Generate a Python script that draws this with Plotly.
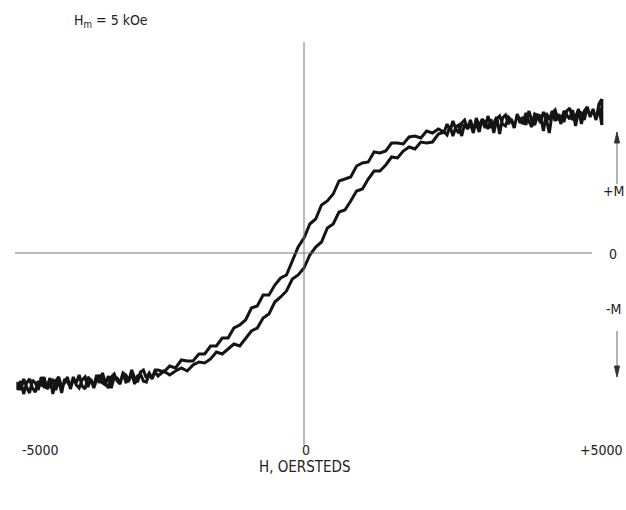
import plotly.graph_objects as go

# Applied field H (Oe), sample positions along the sweep (finer sampling in the saturated, noisy ends)
H_OE = [-4900, -4850, -4800, -4750, -4700, -4650, -4600, -4550, -4500, -4450,
        -4400, -4350, -4300, -4250, -4200, -4150, -4100, -4050, -4000, -3950,
        -3900, -3850, -3800, -3750, -3700, -3650, -3600, -3550, -3500, -3450,
        -3400, -3350, -3300, -3250, -3200, -3150, -3100, -3050, -3000, -2950,
        -2900, -2850, -2800, -2750, -2700, -2650, -2600, -2550,
        -2500, -2400, -2300, -2200, -2100, -2000, -1900, -1800, -1700, -1600,
        -1500, -1400, -1300, -1200, -1100, -1000, -900, -800, -700, -600,
        -500, -400, -300, -200, -100, 0, 100, 200, 300, 400,
        500, 600, 700, 800, 900, 1000, 1100, 1200, 1300, 1400,
        1500, 1600, 1700, 1800, 1900, 2000, 2100, 2200, 2300, 2400,
        2450, 2500, 2550, 2600, 2650, 2700, 2750, 2800, 2850, 2900,
        2950, 3000, 3050, 3100, 3150, 3200, 3250, 3300, 3350, 3400,
        3450, 3500, 3550, 3600, 3650, 3700, 3750, 3800, 3850, 3900,
        3950, 4000, 4050, 4100, 4150, 4200, 4250, 4300, 4350, 4400,
        4450, 4500, 4550, 4600, 4650, 4700, 4750, 4800, 4850, 4900,
        4950, 5000, 5050, 5100]

# Magnetization (arbitrary units), descending branch (H decreasing; upper-left curve)
M_DESC = [-129, -137, -126, -134, -140, -127, -130, -137, -124, -134,
          -134, -125, -141, -128, -124, -134, -130, -124, -136, -126,
          -130, -122, -133, -136, -124, -127, -133, -122, -130, -120,
          -130, -135, -124, -121, -128, -131, -120, -122, -128, -117,
          -125, -129, -119, -117, -125, -120, -125, -117,
          -117, -119, -113, -115, -107, -108, -108, -101, -101, -93,
          -93, -85, -85, -75, -72, -67, -55, -53, -42, -42,
          -32, -25, -22, -9, 6, 15, 29, 34, 48, 52,
          59, 72, 74, 76, 87, 90, 91, 101, 100, 102,
          110, 110, 109, 116, 117, 115, 122, 120, 124, 121,
          129, 122, 132, 124, 120, 130, 133, 124, 129, 120,
          135, 127, 134, 125, 137, 127, 130, 136, 119, 135,
          138, 129, 134, 126, 138, 134, 129, 140, 132, 126,
          139, 137, 130, 141, 134, 120, 140, 143, 133, 138,
          131, 142, 145, 133, 136, 144, 129, 142, 146, 136,
          144, 133, 149, 154]

# Magnetization (arbitrary units), ascending branch (H increasing; lower-right curve)
M_ASC = [-137, -128, -141, -130, -126, -135, -139, -128, -133, -124,
         -136, -133, -126, -137, -127, -140, -126, -129, -134, -124,
         -132, -135, -127, -124, -134, -126, -135, -127, -122, -130,
         -132, -123, -135, -124, -125, -130, -120, -129, -128, -120,
         -131, -123, -121, -128, -129, -121, -126, -119,
         -123, -118, -122, -118, -115, -118, -112, -109, -110, -106,
         -99, -101, -96, -91, -93, -85, -78, -75, -65, -61,
         -49, -44, -38, -26, -22, -15, -2, 6, 11, 25,
         29, 41, 43, 52, 62, 64, 74, 82, 82, 88,
         96, 95, 102, 106, 104, 111, 110, 111, 119, 121,
         118, 127, 117, 126, 128, 117, 129, 124, 133, 123,
         129, 121, 134, 131, 124, 134, 120, 134, 137, 129,
         127, 136, 133, 125, 139, 130, 136, 128, 142, 133,
         128, 138, 137, 122, 140, 133, 142, 132, 139, 129,
         142, 138, 134, 143, 127, 142, 140, 133, 146, 137,
         143, 133, 145, 128]

# Texts
X_TICK_LABELS = ["-5000", "0", "+5000"]
X_TITLE = "H, OERSTEDS"
Y_LABELS = ["+M", "0", "-M"]
HEADER = "H<sub>m</sub> = 5 kOe"

W, H = 626, 510
FONT = "DejaVu Sans Condensed, DejaVu Sans, sans-serif"
INK = "#141414"
AXIS = "#777777"

def px(xp):
    return xp / W

def py(yp):
    return 1 - yp / H

fig = go.Figure()

# one continuous trace: descending sweep, then ascending sweep, closed at the +H end
loop_h = list(reversed(H_OE)) + H_OE + [H_OE[-1]]
loop_m = list(reversed(M_DESC)) + M_ASC + [M_DESC[-1]]
fig.add_trace(go.Scatter(x=loop_h, y=loop_m, mode="lines",
                         line=dict(color=INK, width=3),
                         hoverinfo="skip"))

shapes = [
    # M = 0 axis
    dict(type="line", xref="paper", yref="y", x0=px(15), x1=px(592), y0=0, y1=0,
         line=dict(color=AXIS, width=1)),
    # H = 0 axis
    dict(type="line", xref="x", yref="paper", x0=0, x1=0, y0=py(42), y1=py(445),
         line=dict(color=AXIS, width=1)),
    # +M arrow
    dict(type="line", xref="paper", yref="paper", x0=px(617), x1=px(617), y0=py(184), y1=py(141),
         line=dict(color="#666", width=1)),
    dict(type="path", xref="paper", yref="paper",
         path="M {:.5f},{:.5f} L {:.5f},{:.5f} L {:.5f},{:.5f} Z".format(
             px(614.5), py(143), px(619.5), py(143), px(617), py(132)),
         fillcolor="#333", line=dict(color="#333", width=1)),
    # -M arrow
    dict(type="line", xref="paper", yref="paper", x0=px(617), x1=px(617), y0=py(331), y1=py(368),
         line=dict(color="#666", width=1)),
    dict(type="path", xref="paper", yref="paper",
         path="M {:.5f},{:.5f} L {:.5f},{:.5f} L {:.5f},{:.5f} Z".format(
             px(614.5), py(366), px(619.5), py(366), px(617), py(377)),
         fillcolor="#333", line=dict(color="#333", width=1)),
]

ann = []
for label, xp in zip(X_TICK_LABELS, [40, 306, 601]):
    ann.append(dict(text=label, xref="paper", yref="paper", x=px(xp), y=py(450),
                    showarrow=False, xanchor="center", yanchor="middle",
                    font=dict(size=14)))
ann.append(dict(text=X_TITLE, xref="paper", yref="paper", x=px(305), y=py(467),
                showarrow=False, xanchor="center", yanchor="middle",
                font=dict(size=15)))
for label, yp in zip(Y_LABELS, [191, 254, 309]):
    ann.append(dict(text=label, xref="paper", yref="paper", x=px(613), y=py(yp),
                    showarrow=False, xanchor="center", yanchor="middle",
                    font=dict(size=14)))
ann.append(dict(text=HEADER, xref="paper", yref="paper", x=px(111), y=py(21),
                showarrow=False, xanchor="center", yanchor="middle",
                font=dict(size=14)))

fig.update_layout(
    width=W, height=H,
    margin=dict(l=0, r=0, t=0, b=0),
    paper_bgcolor="white", plot_bgcolor="white",
    showlegend=False,
    font=dict(family=FONT, size=14, color="#222"),
    xaxis=dict(visible=False, range=[-304 * 5000 / 292, 322 * 5000 / 292], fixedrange=True),
    yaxis=dict(visible=False, range=[-257, 253], fixedrange=True),
    shapes=shapes,
    annotations=ann,
)

fig.write_html("out.html")
